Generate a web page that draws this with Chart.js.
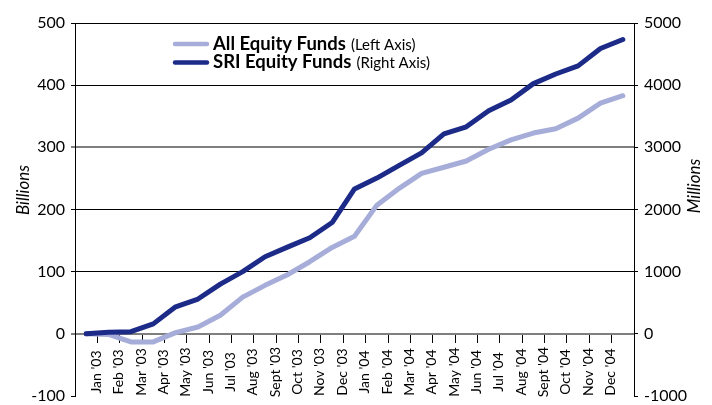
<!DOCTYPE html>
<html>
<head>
<meta charset="utf-8">
<script src="https://cdn.jsdelivr.net/npm/chart.js@4/dist/chart.umd.min.js"></script>
<style>
html,body{margin:0;padding:0;background:#fff;}
#wrap{width:712px;height:405px;position:relative;}
canvas{display:block;}
</style>
</head>
<body>
<div id="wrap"><canvas id="c" width="712" height="405"></canvas></div>
<script>
// ---- Data ----
const categories = ["Jan '03","Feb '03","Mar '03","Apr '03","May '03","Jun '03","Jul '03","Aug '03","Sept '03","Oct '03","Nov '03","Dec '03",
                    "Jan '04","Feb '04","Mar '04","Apr '04","May '04","Jun '04","Jul '04","Aug '04","Sept '04","Oct '04","Nov '04","Dec '04"];
// cumulative flows, 25 points (start + month ends)
const allEquityFunds = [0, -1, -13, -13, 2, 11, 30, 59, 78, 95, 116, 139, 157, 207, 234, 258, 268, 278, 297, 312, 323, 330, 347, 371, 383]; // Billions (left axis)
const sriEquityFunds = [0, 25, 35, 160, 435, 560, 800, 1000, 1240, 1395, 1545, 1790, 2330, 2505, 2710, 2910, 3215, 3330, 3590, 3760, 4025, 4180, 4310, 4590, 4735]; // Millions (right axis)
const leftTicks = [-100, 0, 100, 200, 300, 400, 500];
const rightTicks = [-1000, 0, 1000, 2000, 3000, 4000, 5000];
const seriesNames = ["All Equity Funds", "SRI Equity Funds"];
const seriesNotes = ["(Left Axis)", "(Right Axis)"];
const axisTitles = ["Billions", "Millions"];

const LIGHT = '#a6add9';
const DARK = '#1c2a88';
const FONT = 'Lato, "Open Sans", sans-serif';

const toPoints = arr => arr.map((v, i) => ({x: i, y: v}));

const overlayPlugin = {
  id: 'overlay',
  afterDraw(chart) {
    const ctx = chart.ctx;
    const xs = chart.scales.x;
    ctx.save();
    ctx.fillStyle = '#000';
    // x category labels (rotated, centred under tick marks)
    ctx.font = '14px ' + FONT;
    ctx.textAlign = 'center';
    ctx.textBaseline = 'middle';
    xs.ticks.forEach((t, k) => {
      const px = xs.getPixelForValue(t.value);
      ctx.save();
      ctx.translate(px - 1, 372);
      ctx.rotate(-Math.PI / 2);
      ctx.fillText(categories[k], 0, 0);
      ctx.restore();
    });
    // axis titles
    ctx.font = 'italic 17px ' + FONT;
    ctx.save(); ctx.translate(24, 190); ctx.rotate(-Math.PI / 2); ctx.fillText(axisTitles[0], 0, 0); ctx.restore();
    ctx.save(); ctx.translate(695, 186); ctx.rotate(-Math.PI / 2); ctx.fillText(axisTitles[1], 0, 0); ctx.restore();
    // legend
    const rows = [{y: 44, base: 49.5, color: LIGHT}, {y: 62.5, base: 68, color: DARK}];
    rows.forEach((r, i) => {
      ctx.strokeStyle = r.color;
      ctx.lineWidth = 4.5;
      ctx.lineCap = 'round';
      ctx.beginPath(); ctx.moveTo(175, r.y); ctx.lineTo(207, r.y); ctx.stroke();
      ctx.textAlign = 'left';
      ctx.textBaseline = 'alphabetic';
      ctx.font = 'bold 18.5px ' + FONT;
      ctx.fillText(seriesNames[i], 213, r.base);
      const w = ctx.measureText(seriesNames[i]).width;
      ctx.font = '15px ' + FONT;
      ctx.fillText(seriesNotes[i], 213 + w + 5, r.base);
    });
    ctx.restore();
  }
};

const gridColor = c => {
  const v = c.tick && c.tick.value;
  if (v === -100) return 'rgba(0,0,0,0)';
  if (v === 0 || v === 300) return '#7f7f7f';
  return '#000';
};
const gridWidth = c => {
  const v = c.tick && c.tick.value;
  return (v === 0 || v === 300) ? 2 : 1;
};
const fitY = w => s => { s.width = w; s.paddingTop = 0; s.paddingBottom = 0; };

new Chart(document.getElementById('c'), {
  type: 'line',
  data: {
    datasets: [
      {label: seriesNames[1], data: toPoints(sriEquityFunds), yAxisID: 'y2', borderColor: DARK, backgroundColor: DARK,
       borderWidth: 5, pointRadius: 0, tension: 0, borderJoinStyle: 'round', borderCapStyle: 'round', order: 0},
      {label: seriesNames[0], data: toPoints(allEquityFunds), yAxisID: 'y', borderColor: LIGHT, backgroundColor: LIGHT,
       borderWidth: 5, pointRadius: 0, tension: 0, borderJoinStyle: 'round', borderCapStyle: 'round', order: 1}
    ]
  },
  options: {
    responsive: false,
    animation: false,
    devicePixelRatio: 1,
    layout: {padding: {top: 23, bottom: 9, left: 0, right: 0}},
    plugins: {legend: {display: false}, tooltip: {enabled: false}},
    scales: {
      x: {
        type: 'linear',
        position: {y: 0},
        min: -0.5,
        max: 24.5,
        afterBuildTicks: s => { s.ticks = categories.map((c, k) => ({value: k + 0.5})); },
        ticks: {display: false, callback: (v, i) => categories[i]},
        grid: {drawOnChartArea: false, drawTicks: true, tickLength: 9, color: '#000', lineWidth: 1},
        border: {display: false}
      },
      y: {
        type: 'linear',
        position: 'left',
        min: -100,
        max: 500,
        afterBuildTicks: s => { s.ticks = leftTicks.map(v => ({value: v})); },
        afterFit: fitY(75),
        ticks: {color: '#000', padding: 6, font: {family: FONT, size: 16, lineHeight: 1}, callback: v => String(v)},
        grid: {color: gridColor, lineWidth: gridWidth, tickColor: '#000', tickWidth: 1, tickLength: 4},
        border: {display: true, color: '#000', width: 1}
      },
      y2: {
        type: 'linear',
        position: 'right',
        min: -1000,
        max: 5000,
        afterBuildTicks: s => { s.ticks = rightTicks.map(v => ({value: v})); },
        afterFit: fitY(78),
        ticks: {color: '#000', padding: 6, font: {family: FONT, size: 16, lineHeight: 1}, callback: v => String(v)},
        grid: {drawOnChartArea: false, color: '#000', tickLength: 4, lineWidth: 1},
        border: {display: true, color: '#000', width: 1}
      }
    }
  },
  plugins: [overlayPlugin]
});
</script>
</body>
</html>
